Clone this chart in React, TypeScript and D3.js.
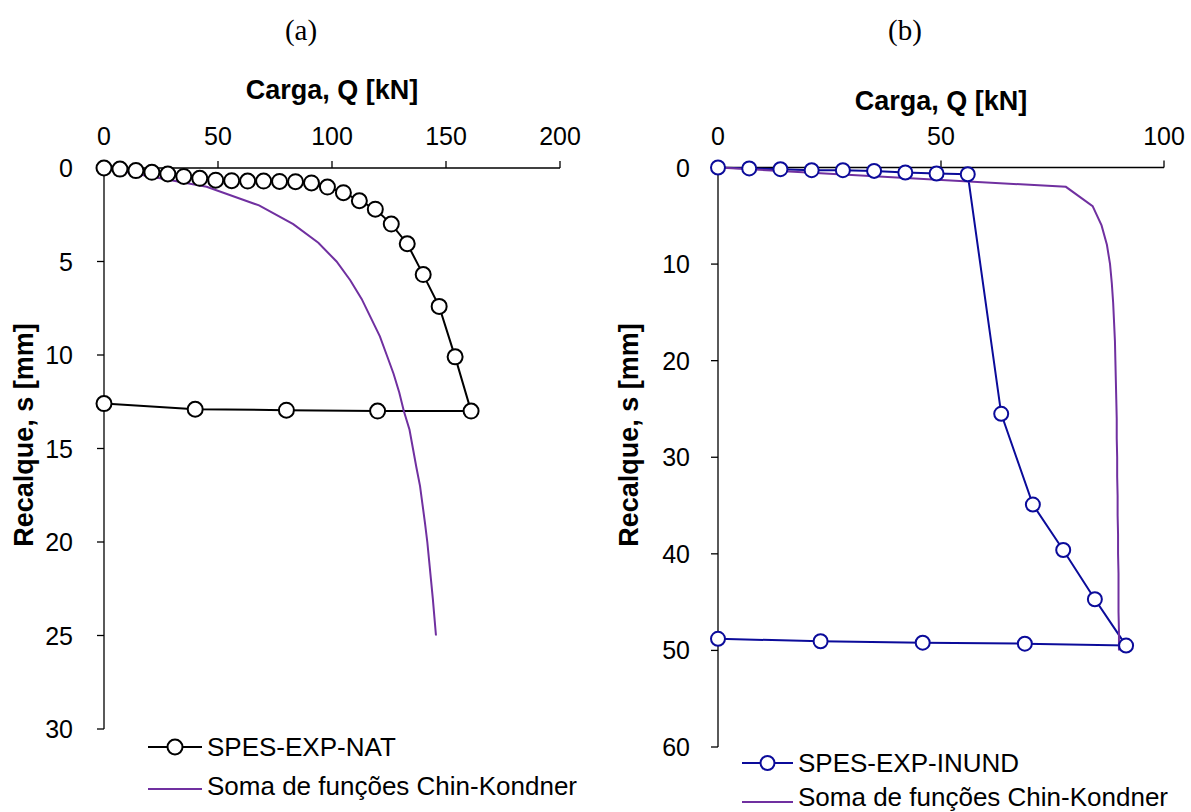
import React from "react";
import * as d3 from "d3";

// Panel (a): natural-moisture load test
const natLoad = [0, 7, 14, 21, 28, 35, 42, 49, 56, 63, 70, 77, 84, 91, 98, 105, 112, 119, 126, 133, 140, 147, 154, 161, 120, 80, 40, 0];
const natSettle = [0, 0.06, 0.14, 0.23, 0.32, 0.45, 0.55, 0.65, 0.68, 0.7, 0.7, 0.72, 0.73, 0.8, 1.02, 1.32, 1.75, 2.2, 3.0, 4.05, 5.7, 7.4, 10.1, 13.0, 13.0, 12.95, 12.9, 12.6];

// Panel (a): sum of Chin-Kondner functions
const chinASettle = [0, 1, 2, 3, 4, 5, 6, 7, 8, 9, 10, 11, 12, 13, 14, 15, 16, 17, 18, 19, 20, 21, 22, 23, 24, 25];
const chinALoad = [0, 45, 68, 83, 94, 102, 108, 113, 117, 121, 124, 127, 129.5, 131.5, 134, 135.5, 137, 138.6, 139.7, 140.8, 141.8, 142.6, 143.4, 144.2, 144.9, 145.6];

// Panel (b): flooded load test
const inundLoad = [0, 7, 14, 21, 28, 35, 42, 49, 56, 63.5, 70.6, 77.4, 84.5, 91.5, 68.8, 45.9, 23, 0];
const inundSettle = [0, 0.1, 0.17, 0.28, 0.28, 0.35, 0.52, 0.62, 0.7, 25.5, 34.9, 39.6, 44.7, 49.5, 49.3, 49.2, 49.05, 48.8];

// Panel (b): sum of Chin-Kondner functions
const chinBSettle = [0, 2, 4, 6, 8, 10, 12, 14, 16, 18, 20, 22, 24, 26, 28, 30, 32, 34, 36, 38, 40, 42, 44, 46, 48, 50];
const chinBLoad = [0, 78, 84, 86, 87.2, 87.9, 88.3, 88.6, 88.8, 89.0, 89.1, 89.2, 89.3, 89.4, 89.4, 89.5, 89.5, 89.6, 89.6, 89.7, 89.7, 89.8, 89.8, 89.8, 89.9, 89.9];

const ticksA_x = [0, 50, 100, 150, 200];
const ticksA_y = [0, 5, 10, 15, 20, 25, 30];
const ticksB_x = [0, 50, 100];
const ticksB_y = [0, 10, 20, 30, 40, 50, 60];

const FONT = "'Liberation Sans', Arial, sans-serif";
const PURPLE = "#7030A0";
const BLUE = "#0B0B9A";
const TICK_FS = 25;
const TITLE_FS = 27;
const LEGEND_FS = 26;

type Pt = [number, number];
const zip = (a: number[], b: number[]): Pt[] => a.map((v, i) => [v, b[i]]);

interface PanelProps {
  title: string;
  titleX: number;
  xDomain: [number, number];
  xRange: [number, number];
  yDomain: [number, number];
  yRange: [number, number];
  xTicks: number[];
  yTicks: number[];
  axisTitleY: number;
  yTitleX: number;
  yLabelRight: number;
  exp: Pt[];
  expColor: string;
  expName: string;
  chin: Pt[];
  r: number;
  legendX: number;
  legendLen: number;
  legendY1: number;
  legendY2: number;
  legendText2Dy: number;
}

function Panel(p: PanelProps) {
  const x = d3.scaleLinear().domain(p.xDomain).range(p.xRange);
  const y = d3.scaleLinear().domain(p.yDomain).range(p.yRange);
  const line = d3.line<Pt>().x((d) => x(d[0])).y((d) => y(d[1]));
  const x0 = x(p.xDomain[0]);
  const y0 = y(p.yDomain[0]);
  const midX = (p.xRange[0] + p.xRange[1]) / 2;
  const midY = 435;
  const textX = p.legendX + p.legendLen + 5;
  return (
    <g>
      <text x={p.titleX} y={40} fontFamily="'Liberation Serif', 'Times New Roman', serif" fontSize={29} textAnchor="middle">
        {p.title}
      </text>
      {/* axes */}
      <line x1={x0} x2={p.xRange[1]} y1={y0} y2={y0} stroke="#000" strokeWidth={1.3} />
      <line x1={x0} x2={x0} y1={y0} y2={p.yRange[1]} stroke="#000" strokeWidth={1.3} />
      {p.xTicks.map((t) => (
        <g key={"xt" + t}>
          <line x1={x(t)} x2={x(t)} y1={y0} y2={y0 - 7} stroke="#000" strokeWidth={1.3} />
          <text x={x(t)} y={145} fontFamily={FONT} fontSize={TICK_FS} textAnchor="middle">
            {t}
          </text>
        </g>
      ))}
      {p.yTicks.map((t) => (
        <g key={"yt" + t}>
          <line x1={x0} x2={x0 - 7} y1={y(t)} y2={y(t)} stroke="#000" strokeWidth={1.3} />
          <text x={p.yLabelRight} y={y(t) + 9} fontFamily={FONT} fontSize={TICK_FS} textAnchor="end">
            {t}
          </text>
        </g>
      ))}
      <text x={midX} y={p.axisTitleY} fontFamily={FONT} fontSize={TITLE_FS} fontWeight="bold" textAnchor="middle">
        Carga, Q [kN]
      </text>
      <text
        transform={`translate(${p.yTitleX},${midY}) rotate(-90)`}
        fontFamily={FONT}
        fontSize={TITLE_FS}
        fontWeight="bold"
        textAnchor="middle"
      >
        Recalque, s [mm]
      </text>
      {/* experimental curve */}
      <path d={line(p.exp) ?? ""} fill="none" stroke={p.expColor} strokeWidth={2} />
      {/* Chin-Kondner sum */}
      <path d={line(p.chin) ?? ""} fill="none" stroke={PURPLE} strokeWidth={2} />
      {p.exp.map((d, i) => (
        <circle key={"c" + i} cx={x(d[0])} cy={y(d[1])} r={p.r} fill="#fff" stroke={p.expColor} strokeWidth={2} />
      ))}
      {/* legend */}
      <line x1={p.legendX} x2={p.legendX + p.legendLen} y1={p.legendY1} y2={p.legendY1} stroke={p.expColor} strokeWidth={2} />
      <circle cx={p.legendX + p.legendLen / 2} cy={p.legendY1} r={p.r} fill="#fff" stroke={p.expColor} strokeWidth={2} />
      <text x={textX} y={p.legendY1 + 9} fontFamily={FONT} fontSize={LEGEND_FS}>
        {p.expName}
      </text>
      <line x1={p.legendX} x2={p.legendX + p.legendLen} y1={p.legendY2} y2={p.legendY2} stroke={PURPLE} strokeWidth={2} />
      <text x={textX} y={p.legendY2 + p.legendText2Dy} fontFamily={FONT} fontSize={LEGEND_FS}>
        Soma de funções Chin-Kondner
      </text>
    </g>
  );
}

export default function App() {
  return (
    <svg
      width={1191}
      height={812}
      style={{ position: "absolute", left: 0, top: 0, background: "#fff" }}
    >
      <rect width={1191} height={812} fill="#fff" />
      <Panel
        title="(a)"
        titleX={301}
        xDomain={[0, 200]}
        xRange={[104, 560]}
        yDomain={[0, 30]}
        yRange={[168, 729]}
        xTicks={ticksA_x}
        yTicks={ticksA_y}
        axisTitleY={99}
        yTitleX={33}
        yLabelRight={73}
        exp={zip(natLoad, natSettle)}
        expColor="#000"
        expName="SPES-EXP-NAT"
        chin={zip(chinALoad, chinASettle)}
        r={7.5}
        legendX={148}
        legendLen={54}
        legendY1={747}
        legendY2={789}
        legendText2Dy={6}
      />
      <Panel
        title="(b)"
        titleX={905}
        xDomain={[0, 100]}
        xRange={[718, 1164]}
        yDomain={[0, 60]}
        yRange={[167.5, 747]}
        xTicks={ticksB_x}
        yTicks={ticksB_y}
        axisTitleY={110}
        yTitleX={638}
        yLabelRight={690}
        exp={zip(inundLoad, inundSettle)}
        expColor={BLUE}
        expName="SPES-EXP-INUND"
        chin={zip(chinBLoad, chinBSettle)}
        r={7}
        legendX={742}
        legendLen={51}
        legendY1={763}
        legendY2={802}
        legendText2Dy={4}
      />
    </svg>
  );
}
